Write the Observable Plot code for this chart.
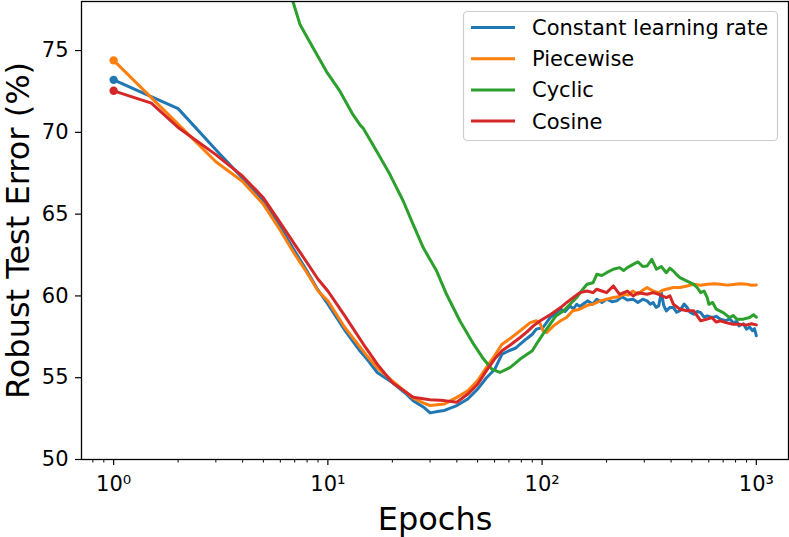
<!DOCTYPE html>
<html>
<head>
<meta charset="utf-8">
<script src="https://cdn.jsdelivr.net/npm/d3@7"></script>
<script src="https://cdn.jsdelivr.net/npm/@observablehq/plot@0.6"></script>
<style>
  html, body { margin: 0; padding: 0; background: #fff; }
  #chart svg { display: block; }
</style>
</head>
<body>
<div id="chart"></div>
<script>
// ---- Data ----
const seriesNames = ["Constant learning rate", "Piecewise", "Cyclic", "Cosine"];
const seriesColors = ["#1f77b4", "#ff7f0e", "#2ca02c", "#d62728"];

const constantEpochs = [1, 2, 3, 4, 5, 6, 7, 8, 9, 10, 12, 14, 15, 17, 20, 23, 25, 28, 30, 33, 35, 40, 45, 50, 55, 60, 65, 70, 75, 79, 85, 90, 94, 101, 109, 115, 122, 128, 135, 140, 145, 150, 155, 163, 172, 180, 190, 200, 212, 223, 236, 250, 266, 280, 295, 309, 320, 330, 340, 350, 360, 370, 380, 395, 410, 425, 440, 460, 475, 490, 510, 530, 550, 570, 590, 620, 650, 680, 720, 750, 780, 810, 830, 870, 900, 930, 960, 980, 1000];
const constantError = [73.21, 71.45, 68.94, 67.2, 65.8, 64.2, 62.75, 61.5, 60.35, 59.5, 57.9, 56.7, 56.24, 55.32, 54.7, 54.05, 53.6, 53.2, 52.85, 52.95, 53.0, 53.3, 53.7, 54.3, 55.0, 55.5, 56.44, 56.65, 56.8, 57.05, 57.4, 57.66, 57.97, 58.07, 58.68, 58.9, 59.19, 59.05, 59.39, 59.2, 59.49, 59.35, 59.49, 59.7, 59.5, 59.8, 59.6, 59.8, 59.65, 59.7, 59.95, 59.75, 59.8, 59.6, 59.8, 59.7, 59.5, 59.6, 59.3, 59.39, 60.2, 59.4, 59.09, 59.3, 59.29, 59.0, 59.1, 59.5, 59.3, 59.0, 58.88, 59.05, 58.98, 58.7, 58.78, 58.68, 58.75, 58.58, 58.48, 58.6, 58.37, 58.45, 58.17, 58.3, 57.97, 58.1, 57.87, 58.0, 57.56];

const piecewiseEpochs = [1, 2, 3, 4, 5, 6, 7, 8, 9, 10, 12, 15, 17, 20, 25, 28, 30, 35, 40, 45, 50, 55, 60, 65, 71, 79, 88, 94, 98, 101, 105, 113, 122, 130, 139, 147, 155, 164, 173, 180, 187, 200, 215, 228, 240, 252, 265, 280, 295, 309, 330, 350, 365, 380, 410, 440, 475, 510, 550, 590, 640, 680, 730, 780, 840, 900, 950, 1000];
const piecewiseError = [74.4, 70.5, 68.2, 67.0, 65.6, 64.0, 62.55, 61.4, 60.3, 59.7, 58.07, 56.44, 55.6, 54.8, 53.75, 53.45, 53.3, 53.4, 53.8, 54.2, 54.82, 55.63, 56.34, 57.05, 57.4, 57.87, 58.37, 58.48, 58.3, 57.87, 57.76, 58.17, 58.48, 58.68, 59.09, 59.15, 59.29, 59.45, 59.49, 59.6, 59.7, 59.8, 59.9, 59.95, 60.1, 60.05, 60.3, 60.1, 60.35, 60.51, 60.3, 60.2, 60.35, 60.41, 60.51, 60.51, 60.61, 60.71, 60.65, 60.71, 60.75, 60.72, 60.66, 60.7, 60.75, 60.72, 60.65, 60.67];

const cyclicEpochs = [1, 2, 3, 4, 5, 6, 6.87, 7.41, 8.55, 9.87, 11.4, 13.1, 14.1, 14.6, 16.9, 19.5, 22.5, 25, 27.9, 32.2, 35.8, 41.3, 47.9, 53.3, 58.2, 63.5, 71, 79, 90, 94, 101, 109, 116, 126, 135, 145, 155, 162, 173, 180, 190, 200, 215, 230, 240, 250, 266, 280, 295, 309, 325, 342, 360, 380, 395, 410, 425, 440, 475, 510, 530, 550, 570, 590, 600, 625, 650, 700, 750, 780, 810, 870, 930, 970, 1000];
const cyclicError = [88, 86, 84.2, 82.6, 81.0, 79.4, 78.0, 76.6, 75.14, 73.7, 72.5, 71.08, 70.47, 70.26, 68.84, 67.42, 65.79, 64.37, 62.94, 61.52, 60.1, 58.48, 57.05, 56.14, 55.53, 55.32, 55.63, 56.14, 56.65, 57.05, 57.66, 58.27, 58.78, 59.09, 59.49, 59.9, 60.41, 60.71, 60.81, 61.32, 61.25, 61.42, 61.63, 61.73, 61.55, 61.73, 61.93, 62.08, 61.8, 61.83, 62.24, 61.63, 61.8, 61.42, 61.7, 61.52, 61.3, 61.12, 60.91, 60.71, 60.5, 60.2, 60.3, 59.9, 59.49, 59.6, 59.19, 58.98, 58.68, 58.8, 58.58, 58.58, 58.68, 58.85, 58.7];

const cosineEpochs = [1, 1.5, 2, 3, 4, 5, 6, 7, 8, 9, 10, 12, 15, 17, 20, 25, 30, 35, 40, 45, 50, 55, 60, 65, 71, 79, 85, 91, 98, 110, 122, 130, 140, 150, 162, 173, 180, 190, 200, 215, 230, 250, 266, 280, 309, 330, 350, 380, 395, 410, 440, 475, 510, 550, 590, 620, 650, 680, 720, 780, 830, 900, 950, 1000];
const cosineError = [72.54, 71.79, 70.3, 68.64, 67.32, 66.0, 64.47, 63.15, 62.03, 61.02, 60.3, 58.78, 56.85, 55.83, 54.7, 53.8, 53.65, 53.6, 53.5, 54.0, 54.6, 55.43, 56.14, 56.65, 57.0, 57.46, 57.8, 58.17, 58.48, 58.88, 59.29, 59.59, 59.9, 60.2, 60.3, 60.2, 60.41, 60.3, 60.2, 60.61, 60.1, 60.3, 60.0, 60.2, 60.1, 60.2, 60.1, 59.9, 60.0, 59.49, 59.19, 59.09, 59.09, 58.48, 58.58, 58.68, 58.4, 58.48, 58.37, 58.27, 58.27, 58.23, 58.3, 58.23];

const xMajorTicks = [1, 10, 100, 1000];
const xMajorLabels = ["10\u2070", "10\u00B9", "10\u00B2", "10\u00B3"];
const xMinorTicks = [0.8, 0.9, 2, 3, 4, 5, 6, 7, 8, 9, 20, 30, 40, 50, 60, 70, 80, 90, 200, 300, 400, 500, 600, 700, 800, 900];
const yTicks = [50, 55, 60, 65, 70, 75];
const xLabel = "Epochs";
const yLabel = "Robust Test Error (%)";

// ---- Build table ----
const seriesEpochs = [constantEpochs, piecewiseEpochs, cyclicEpochs, cosineEpochs];
const seriesErrors = [constantError, piecewiseError, cyclicError, cosineError];
const rows = [];
seriesNames.forEach((name, i) => {
  seriesEpochs[i].forEach((e, j) => rows.push({series: name, epoch: e, error: seriesErrors[i][j]}));
});
const firstPoints = seriesNames.map((name, i) => ({series: name, epoch: seriesEpochs[i][0], error: seriesErrors[i][0]}));

const FONT = "DejaVu Sans";

const chart = Plot.plot({
  width: 789,
  height: 537,
  marginLeft: 81,
  marginRight: 1,
  marginTop: 1,
  marginBottom: 78,
  style: {fontFamily: FONT, background: "#fff", color: "black", overflow: "visible"},
  x: {type: "log", domain: [0.708, 1413]},
  y: {domain: [50, 78]},
  color: {domain: seriesNames, range: seriesColors},
  marks: [
    Plot.line(rows, {x: "epoch", y: "error", z: "series", stroke: "series", strokeWidth: 3, clip: true, strokeLinejoin: "round"}),
    Plot.dot(firstPoints, {x: "epoch", y: "error", fill: "series", r: 4.2, clip: true}),
    Plot.frame({stroke: "black", strokeWidth: 1.3}),
    Plot.axisY({ticks: yTicks, tickSize: 6, tickPadding: 7, fontSize: 21, label: null, strokeWidth: 1.2}),
    Plot.axisX({ticks: xMajorTicks, tickFormat: (d) => xMajorLabels[xMajorTicks.indexOf(d)], tickSize: 6, tickPadding: 11, fontSize: 21, label: null, strokeWidth: 1.2}),
    Plot.axisX({ticks: xMinorTicks, tickFormat: () => "", tickSize: 3.5, label: null, strokeWidth: 1}),
    Plot.text([xLabel], {frameAnchor: "bottom", lineAnchor: "middle", dy: 60, fontSize: 32, fill: "black"}),
    Plot.text([yLabel], {frameAnchor: "left", textAnchor: "middle", lineAnchor: "middle", rotate: -90, dx: -63, fontSize: 32, fill: "black"})
  ]
});
document.getElementById("chart").appendChild(chart);

// ---- Legend (matplotlib style, upper right) ----
const svg = d3.select(chart);
const lg = svg.append("g").attr("font-family", FONT).attr("font-size", 21).attr("text-anchor", "start");
lg.append("rect")
  .attr("x", 463.5).attr("y", 11.5).attr("width", 314).attr("height", 129).attr("rx", 4)
  .attr("fill", "white").attr("fill-opacity", 0.8).attr("stroke", "#cccccc").attr("stroke-width", 1.2);
seriesNames.forEach((name, i) => {
  const yy = 27.5 + i * 31.2;
  lg.append("line").attr("x1", 471).attr("x2", 515).attr("y1", yy).attr("y2", yy)
    .attr("stroke", seriesColors[i]).attr("stroke-width", 3);
  lg.append("text").attr("x", 532).attr("y", yy).attr("dy", "0.36em").attr("text-anchor", "start").attr("fill", "black").text(name);
});
</script>
</body>
</html>
